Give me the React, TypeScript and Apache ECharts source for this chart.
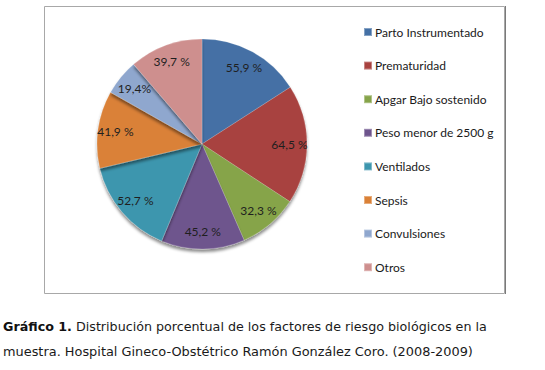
import React, { useEffect, useRef } from "react";
import * as echarts from "echarts";

const categories = [
  "Parto Instrumentado",
  "Prematuridad",
  "Apgar Bajo sostenido",
  "Peso menor de 2500 g",
  "Ventilados",
  "Sepsis",
  "Convulsiones",
  "Otros",
];
const values = [55.9, 64.5, 32.3, 45.2, 52.7, 41.9, 19.4, 39.7];
const valueLabels = ["55,9 %", "64,5 %", "32,3 %", "45,2 %", "52,7 %", "41,9 %", "19,4%", "39,7 %"];
const colors = ["#4470A5", "#A8423F", "#86A44A", "#6E548D", "#3D96AE", "#DA8137", "#8FA7CE", "#CE8F8E"];

const captionBold = "Gráfico 1.";
const captionLine1 = " Distribución porcentual de los factores de riesgo biológicos en la";
const captionLine2 = "muestra. Hospital Gineco-Obstétrico Ramón González Coro. (2008-2009)";

export default function App() {
  const ref = useRef<HTMLDivElement>(null);
  useEffect(() => {
    if (!ref.current) return;
    const chart = echarts.init(ref.current, null, { renderer: "svg" });
    const data = categories.map((name, i) => ({
      name,
      value: values[i],
      itemStyle: { color: colors[i] },
    }));
    const labelData = categories.map((name, i) => ({
      name,
      value: values[i],
      label: { formatter: valueLabels[i] },
    }));
    chart.setOption({
      animation: false,
      backgroundColor: "#ffffff",
      color: colors,
      legend: {
        orient: "vertical",
        left: 363,
        top: 25,
        padding: 0,
        itemWidth: 8,
        itemHeight: 8,
        itemGap: 19.6,
        icon: "rect",
        data: categories,
        selectedMode: false,
        textStyle: { fontFamily: "Lato", fontSize: 12, color: "#1a1a1a", lineHeight: 14, padding: [0, 0, 0, -2] },
      },
      graphic: [
        {
          type: "rect",
          z: -10,
          shape: { x: 44.5, y: 6.5, width: 460, height: 287 },
          style: { fill: "#ffffff", stroke: "#a8a8a8", lineWidth: 1 },
        },
        {
          type: "line",
          z: -9,
          shape: { x1: 505.5, y1: 6, x2: 505.5, y2: 294 },
          style: { stroke: "#7a7a7a", lineWidth: 1 },
        },
        {
          type: "text",
          left: 3,
          top: 320,
          style: {
            text: "{b|" + captionBold + "}{n|" + captionLine1 + "}",
            rich: {
              b: { fontFamily: "DejaVu Sans", fontSize: 12.7, fontWeight: "bold", fill: "#111" },
              n: { fontFamily: "DejaVu Sans", fontSize: 12.7, fill: "#1a1a1a" },
            },
          },
        },
        {
          type: "text",
          left: 3,
          top: 345,
          style: {
            text: captionLine2,
            fontFamily: "DejaVu Sans",
            fontSize: 12.9,
            fill: "#1a1a1a",
          },
        },
      ],
      series: [
        {
          type: "pie",
          center: [202, 144],
          radius: [0, 105],
          startAngle: 90,
          clockwise: true,
          silent: true,
          label: { show: false },
          labelLine: { show: false },
          itemStyle: {
            borderColor: "rgba(255,255,255,0.35)",
            borderWidth: 0.5,
            shadowColor: "rgba(0,0,0,0.45)",
            shadowBlur: 3,
            shadowOffsetY: 3,
          },
          data,
        },
        {
          type: "pie",
          center: [202, 144],
          radius: [64, 105],
          startAngle: 90,
          clockwise: true,
          silent: true,
          legendHoverLink: false,
          itemStyle: { color: "rgba(0,0,0,0)", borderWidth: 0 },
          label: {
            show: true,
            position: "inside",
            fontFamily: "Lato",
            fontSize: 12,
            color: "#1f1f1f",
          },
          labelLine: { show: false },
          data: labelData,
        },
      ],
    });
    return () => chart.dispose();
  }, []);
  return (
    <div
      ref={ref}
      style={{ position: "fixed", left: 0, top: 0, width: 545, height: 370 }}
    />
  );
}
